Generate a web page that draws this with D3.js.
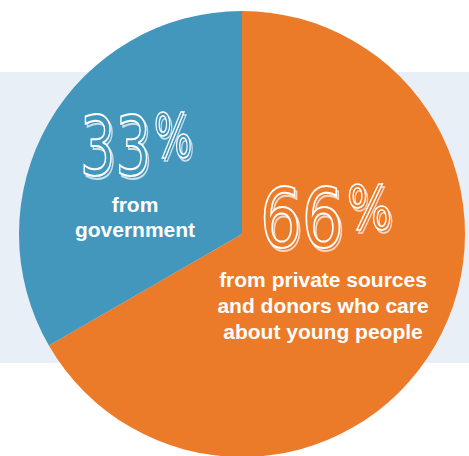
<!DOCTYPE html>
<html>
<head>
<meta charset="utf-8">
<script src="https://cdn.jsdelivr.net/npm/d3@7"></script>
<style>
  html, body { margin: 0; padding: 0; background: #fff; }
  svg { display: block; }
</style>
</head>
<body>
<svg id="chart" width="469" height="456"></svg>
<script>
// data
var categories = ["private", "government"];
var values = [66, 33];
var bigLabels = ["66", "33"];
var textLines = [
  ["from private sources", "and donors who care", "about young people"],
  ["from", "government"]
];
var colors = ["#EC7B29", "#4397BD"];

var width = 469, height = 456;
var cx = 242, cy = 234, radius = 223;

var svg = d3.select("#chart");

// offset outline copy, gives the hand drawn 3D look
var f = svg.append("defs").append("filter")
  .attr("id", "depth")
  .attr("x", "-10%").attr("y", "-10%")
  .attr("width", "130%").attr("height", "130%");
f.append("feOffset").attr("in", "SourceGraphic").attr("dx", 2.5).attr("dy", 2.5).attr("result", "off");
f.append("feComponentTransfer").attr("in", "off").attr("result", "soft")
  .append("feFuncA").attr("type", "linear").attr("slope", 0.7);
var merge = f.append("feMerge");
merge.append("feMergeNode").attr("in", "soft");
merge.append("feMergeNode").attr("in", "SourceGraphic");

// light band behind the pie
svg.append("rect")
  .attr("x", 0)
  .attr("y", 72)
  .attr("width", width)
  .attr("height", 291)
  .style("fill", "#E8EFF6");

var pie = d3.pie().sort(null).value(function (d) { return d; });
var arc = d3.arc().innerRadius(0).outerRadius(radius);

var g = svg.append("g").attr("transform", "translate(" + cx + "," + cy + ")");

g.selectAll("path")
  .data(pie(values))
  .enter()
  .append("path")
  .attr("d", arc)
  .style("fill", function (d, i) { return colors[i]; });

// where each label block sits, relative to the pie centre
var spots = [
  { x: 18, y: 13, cx: 81, line0: 53, step: 26, sx: 0.8 },     // private
  { x: -162, y: -59, cx: -107, line0: -22, step: 25, sx: 0.68 } // government
];

function drawBig(i) {
  var s = spots[i];
  var t = g.append("text")
    .attr("transform", "translate(" + s.x + "," + s.y + ") scale(" + s.sx + ",1)")
    .attr("filter", "url(#depth)")
    .style("font-family", "'DejaVu Sans', sans-serif")
    .style("fill", colors[i])
    .style("stroke", "#fff")
    .style("stroke-width", 2);
  t.append("tspan")
    .style("font-size", "82px")
    .text(bigLabels[i]);
  t.append("tspan")
    .attr("dx", 4)
    .attr("dy", -18)
    .style("font-size", "60px")
    .style("stroke-width", 1.6)
    .text("%");

  g.append("g")
    .selectAll("text")
    .data(textLines[i])
    .enter()
    .append("text")
    .attr("x", s.cx)
    .attr("y", function (d, k) { return s.line0 + k * s.step; })
    .attr("text-anchor", "middle")
    .style("font-family", "'Liberation Sans', Arial, sans-serif")
    .style("font-weight", "bold")
    .style("font-size", "21px")
    .style("fill", "#fff")
    .text(function (d) { return d; });
}

drawBig(0);
drawBig(1);
</script>
</body>
</html>
